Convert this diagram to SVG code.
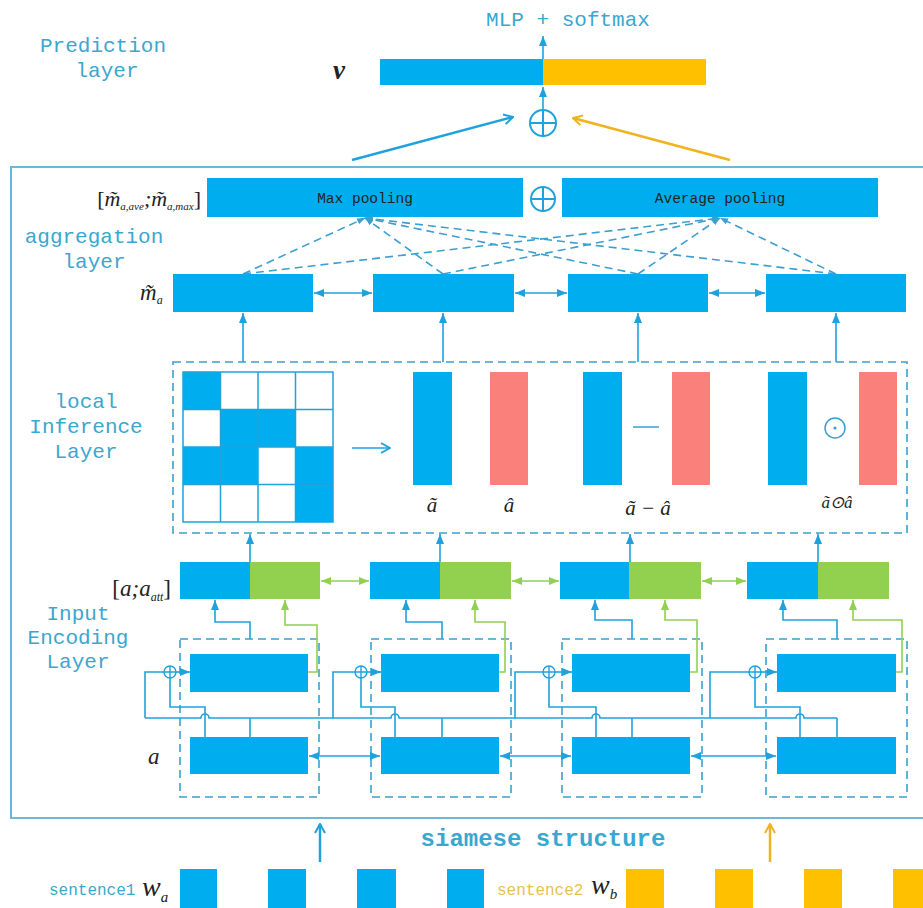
<svg xmlns="http://www.w3.org/2000/svg" width="923" height="908" viewBox="0 0 923 908">
<defs>
<style>
.lbl{font-family:"Liberation Mono","Courier New",monospace;font-size:21px;fill:#3AA7CF;text-anchor:middle}
.math{font-family:"Liberation Serif","Times New Roman",serif;font-style:italic;fill:#222}
.box{fill:#00AEEF}
.grn{fill:#92D050}
.yel{fill:#FFC000}
.pnk{fill:#F9807B}
.ln{fill:none;stroke:#1FA2DC;stroke-width:1.6}
.gln{fill:none;stroke:#92D050;stroke-width:1.6}
.dash{fill:none;stroke:#3AA0CF;stroke-width:1.6;stroke-dasharray:8 5}
.btxt{font-family:"Liberation Mono","Courier New",monospace;font-size:14.5px;fill:#222;text-anchor:middle}
</style>
<marker id="af" viewBox="0 0 10 8" refX="10" refY="4" markerWidth="10" markerHeight="8" markerUnits="userSpaceOnUse" orient="auto-start-reverse"><path d="M0,0 L10,4 L0,8 z" fill="#1FA2DC"/></marker>
<marker id="afs" viewBox="0 0 10 8" refX="10" refY="4" markerWidth="8" markerHeight="7" markerUnits="userSpaceOnUse" orient="auto-start-reverse"><path d="M0,0 L10,4 L0,8 z" fill="#3AA0CF"/></marker>
<marker id="ag" viewBox="0 0 10 8" refX="10" refY="4" markerWidth="10" markerHeight="8" markerUnits="userSpaceOnUse" orient="auto-start-reverse"><path d="M0,0 L10,4 L0,8 z" fill="#92D050"/></marker>
<marker id="ao" viewBox="0 0 12 12" refX="11" refY="6" markerWidth="12" markerHeight="12" markerUnits="userSpaceOnUse" orient="auto"><path d="M2,1 L11,6 L2,11" fill="none" stroke="#1FA2DC" stroke-width="2"/></marker>
<marker id="aoy" viewBox="0 0 12 12" refX="11" refY="6" markerWidth="12" markerHeight="12" markerUnits="userSpaceOnUse" orient="auto"><path d="M2,1 L11,6 L2,11" fill="none" stroke="#F0B21E" stroke-width="2"/></marker>
</defs>
<rect width="923" height="908" fill="#fff"/>

<g id="prediction">
<text class="lbl" x="103" y="52">Prediction</text>
<text class="lbl" x="107" y="77">layer</text>
<text class="math" x="333" y="79" font-size="27" font-weight="bold">v</text>
<rect class="box" x="380" y="59" width="163" height="26"/>
<rect class="yel" x="543" y="59" width="163" height="26"/>
<text class="lbl" x="568" y="26">MLP + softmax</text>
<g fill="none" stroke="#1FA2DC" stroke-width="2"><circle cx="543" cy="123" r="13"/><path d="M530,123 H556 M543,110 V136"/></g>
</g>

<g id="frame"><rect x="11" y="167" width="920" height="651" fill="none" stroke="#6BB8D8" stroke-width="2"/></g>

<g id="aggregation">
<text class="lbl" x="94" y="243">aggregation</text>
<text class="lbl" x="94" y="268">layer</text>
<text class="math" x="201" y="206" font-size="22" text-anchor="end"><tspan font-style="normal">[</tspan>m̃<tspan font-size="11" dy="4">a,ave</tspan><tspan dy="-4">;</tspan>m̃<tspan font-size="11" dy="4">a,max</tspan><tspan dy="-4" font-style="normal">]</tspan></text>
<text class="math" x="140" y="300" font-size="23">m̃<tspan font-size="12" dy="4">a</tspan></text>
<rect class="box" x="207" y="178" width="316" height="39"/>
<text class="btxt" x="365" y="203">Max pooling</text>
<g fill="none" stroke="#1FA2DC" stroke-width="2"><circle cx="543" cy="199" r="12"/><path d="M531,199 H555 M543,187 V211"/></g>
<rect class="box" x="562" y="178" width="316" height="39"/>
<text class="btxt" x="720" y="203">Average pooling</text>
<rect class="box" x="173" y="274" width="140" height="38"/>
<rect class="box" x="373" y="274" width="141" height="38"/>
<rect class="box" x="568" y="274" width="140" height="38"/>
<rect class="box" x="766" y="274" width="140" height="38"/>
</g>

<g id="local-inference">
<text class="lbl" x="86" y="408">local</text>
<text class="lbl" x="86" y="433">Inference</text>
<text class="lbl" x="86" y="458">Layer</text>
<rect class="dash" x="173" y="362" width="734" height="171"/>
<g fill="#00AEEF">
<rect x="183" y="372" width="37.5" height="37.5"/>
<rect x="220.5" y="409.5" width="75" height="37.5"/>
<rect x="183" y="447" width="75" height="37.5"/>
<rect x="295.5" y="447" width="37.5" height="75"/>
</g>
<g fill="none" stroke="#1FA2DC" stroke-width="1.5">
<rect x="183" y="372" width="150" height="150"/>
<path d="M220.5,372 V522 M258,372 V522 M295.5,372 V522 M183,409.5 H333 M183,447 H333 M183,484.5 H333"/>
</g>
<rect class="box" x="413" y="372" width="39" height="113"/>
<rect class="pnk" x="490" y="372" width="38" height="113"/>
<rect class="box" x="583" y="372" width="39" height="113"/>
<rect class="pnk" x="672" y="372" width="38" height="113"/>
<rect class="box" x="768" y="372" width="39" height="113"/>
<rect class="pnk" x="859" y="372" width="38" height="113"/>
<path d="M633,427 H659" stroke="#3AA0CF" stroke-width="1.5"/>
<circle cx="835" cy="428" r="10" fill="none" stroke="#3AA0CF" stroke-width="1.5"/>
<circle cx="835" cy="428" r="1.6" fill="#3AA0CF"/>
<text class="math" x="432" y="512" font-size="21" text-anchor="middle">ã</text>
<text class="math" x="509" y="512" font-size="21" text-anchor="middle">â</text>
<text class="math" x="648" y="515" font-size="21" text-anchor="middle">ã − â</text>
<text class="math" x="837" y="508" font-size="17" text-anchor="middle">ã⊙â</text>
</g>

<g id="input-encoding">
<text class="lbl" x="78" y="620">Input</text>
<text class="lbl" x="78" y="644">Encoding</text>
<text class="lbl" x="78" y="668">Layer</text>
<text class="math" x="171" y="596" font-size="23" text-anchor="end"><tspan font-style="normal">[</tspan>a;a<tspan font-size="12" dy="5">att</tspan><tspan dy="-5" font-style="normal">]</tspan></text>
<text class="math" x="148" y="764" font-size="23">a</text>
<rect class="box" x="180" y="562" width="70" height="37"/><rect class="grn" x="250" y="562" width="70" height="37"/>
<rect class="box" x="370" y="562" width="70" height="37"/><rect class="grn" x="440" y="562" width="71" height="37"/>
<rect class="box" x="560" y="562" width="69" height="37"/><rect class="grn" x="629" y="562" width="72" height="37"/>
<rect class="box" x="747" y="562" width="71" height="37"/><rect class="grn" x="818" y="562" width="71" height="37"/>
<rect class="dash" x="180" y="639" width="139" height="158"/>
<rect class="dash" x="371" y="639" width="140" height="158"/>
<rect class="dash" x="562" y="639" width="140" height="158"/>
<rect class="dash" x="766" y="639" width="141" height="158"/>
<rect class="box" x="190" y="654" width="118" height="38"/><rect class="box" x="190" y="737" width="118" height="37"/>
<rect class="box" x="381" y="654" width="118" height="38"/><rect class="box" x="381" y="737" width="118" height="37"/>
<rect class="box" x="572" y="654" width="118" height="38"/><rect class="box" x="572" y="737" width="118" height="37"/>
<rect class="box" x="777" y="654" width="119" height="38"/><rect class="box" x="777" y="737" width="119" height="37"/>
<g fill="none" stroke="#1FA2DC" stroke-width="1.4">
<circle cx="170" cy="672" r="6"/><path d="M164,672 H176 M170,666 V678"/>
<circle cx="361" cy="672" r="6"/><path d="M355,672 H367 M361,666 V678"/>
<circle cx="549" cy="672" r="6"/><path d="M543,672 H555 M549,666 V678"/>
<circle cx="755" cy="672" r="6"/><path d="M749,672 H761 M755,666 V678"/>
</g>
</g>

<g id="bottom">
<text x="543" y="846" font-family="Liberation Mono,Courier New,monospace" font-size="24" font-weight="bold" fill="#3AA7CF" text-anchor="middle">siamese structure</text>
<text x="49" y="895" font-family="Liberation Mono,Courier New,monospace" font-size="16" fill="#3AA7CF">sentence1</text>
<text class="math" x="142" y="896" font-size="28">w<tspan font-size="15" dy="6">a</tspan></text>
<text x="497" y="895" font-family="Liberation Mono,Courier New,monospace" font-size="16" fill="#E8C050">sentence2</text>
<text class="math" x="591" y="894" font-size="28">w<tspan font-size="15" dy="5">b</tspan></text>
<rect class="box" x="180" y="869" width="37" height="39"/>
<rect class="box" x="268" y="869" width="38" height="39"/>
<rect class="box" x="357" y="869" width="39" height="39"/>
<rect class="box" x="447" y="869" width="37" height="39"/>
<rect class="yel" x="626" y="869" width="38" height="39"/>
<rect class="yel" x="715" y="869" width="38" height="39"/>
<rect class="yel" x="804" y="869" width="38" height="39"/>
<rect class="yel" x="893" y="869" width="38" height="39"/>
</g>

<g id="connectors">
<path class="ln" d="M543,59 V36" stroke-width="2" marker-end="url(#af)"/>
<path class="ln" d="M543,110 V87" stroke-width="2" marker-end="url(#af)"/>
<path d="M352,160 L513,117" fill="none" stroke="#1FA2DC" stroke-width="2.5" marker-end="url(#ao)"/>
<path d="M730,160 L573,118" fill="none" stroke="#F0B21E" stroke-width="2.5" marker-end="url(#aoy)"/>
<path class="dash" d="M243,274 L365,218" marker-end="url(#afs)"/>
<path class="dash" d="M243,274 L720,218" marker-end="url(#afs)"/>
<path class="dash" d="M443,274 L365,218" marker-end="url(#afs)"/>
<path class="dash" d="M443,274 L720,218" marker-end="url(#afs)"/>
<path class="dash" d="M638,274 L365,218" marker-end="url(#afs)"/>
<path class="dash" d="M638,274 L720,218" marker-end="url(#afs)"/>
<path class="dash" d="M836,274 L365,218" marker-end="url(#afs)"/>
<path class="dash" d="M836,274 L720,218" marker-end="url(#afs)"/>
<path class="ln" d="M314,293 H372" marker-start="url(#af)" marker-end="url(#af)"/>
<path class="ln" d="M515,293 H567" marker-start="url(#af)" marker-end="url(#af)"/>
<path class="ln" d="M709,293 H765" marker-start="url(#af)" marker-end="url(#af)"/>
<path class="ln" d="M243,362 V313" marker-end="url(#af)"/>
<path class="ln" d="M443,362 V313" marker-end="url(#af)"/>
<path class="ln" d="M638,362 V313" marker-end="url(#af)"/>
<path class="ln" d="M836,362 V313" marker-end="url(#af)"/>
<path class="ln" d="M352,448 H390" stroke-width="2.2" marker-end="url(#ao)"/>
<path class="ln" d="M250,562 V534" marker-end="url(#af)"/>
<path class="ln" d="M440,562 V534" marker-end="url(#af)"/>
<path class="ln" d="M630,562 V534" marker-end="url(#af)"/>
<path class="ln" d="M818,562 V534" marker-end="url(#af)"/>
<path class="gln" d="M321,581 H369" marker-start="url(#ag)" marker-end="url(#ag)"/>
<path class="gln" d="M512,581 H559" marker-start="url(#ag)" marker-end="url(#ag)"/>
<path class="gln" d="M702,581 H746" marker-start="url(#ag)" marker-end="url(#ag)"/>
<path class="ln" d="M250,639 V622 H215 V600" marker-end="url(#af)"/>
<path class="ln" d="M442,639 V622 H406 V600" marker-end="url(#af)"/>
<path class="ln" d="M632,639 V620 H595 V600" marker-end="url(#af)"/>
<path class="ln" d="M837,639 V620 H783 V600" marker-end="url(#af)"/>
<path class="gln" d="M308,672 H317 V625 H285 V600" marker-end="url(#ag)"/>
<path class="gln" d="M499,672 H505 V622 H475 V600" marker-end="url(#ag)"/>
<path class="gln" d="M690,672 H697 V620 H665 V600" marker-end="url(#ag)"/>
<path class="gln" d="M896,672 H902 V620 H853 V600" marker-end="url(#ag)"/>
<path class="ln" d="M145,718 H201 A4,4 0 0 1 209,718 H391 A4,4 0 0 1 399,718 H592 A4,4 0 0 1 600,718 H796 A4,4 0 0 1 804,718 H837"/>
<path class="ln" d="M145,718 V672 H164"/>
<path class="ln" d="M333,718 V672 H355"/>
<path class="ln" d="M515,718 V672 H543"/>
<path class="ln" d="M710,718 V672 H749"/>
<path class="ln" d="M176,672 H190" marker-end="url(#af)"/>
<path class="ln" d="M367,672 H381" marker-end="url(#af)"/>
<path class="ln" d="M555,672 H572" marker-end="url(#af)"/>
<path class="ln" d="M761,672 H777" marker-end="url(#af)"/>
<path class="ln" d="M170,678 V707 H205 V737"/>
<path class="ln" d="M361,678 V707 H395 V737"/>
<path class="ln" d="M549,678 V707 H596 V737"/>
<path class="ln" d="M755,678 V707 H800 V737"/>
<path class="ln" d="M250,737 V718"/>
<path class="ln" d="M442,737 V718"/>
<path class="ln" d="M632,737 V718"/>
<path class="ln" d="M837,737 V718"/>
<path class="ln" d="M309,756 H380" marker-start="url(#af)" marker-end="url(#af)"/>
<path class="ln" d="M500,756 H571" marker-start="url(#af)" marker-end="url(#af)"/>
<path class="ln" d="M691,756 H776" marker-start="url(#af)" marker-end="url(#af)"/>
<path d="M320,862 V824" fill="none" stroke="#1FA2DC" stroke-width="2.5" marker-end="url(#ao)"/>
<path d="M770,862 V824" fill="none" stroke="#F0B21E" stroke-width="2.5" marker-end="url(#aoy)"/>
</g>
</svg>
